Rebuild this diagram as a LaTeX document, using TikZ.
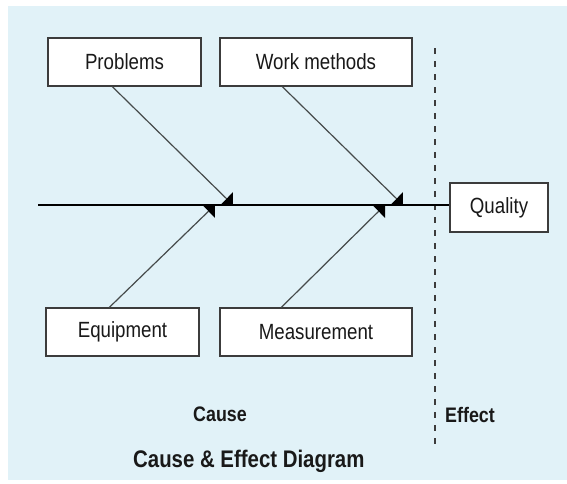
\documentclass[tikz,border=0pt]{standalone}
\usepackage{fontspec}
\setmainfont{Liberation Sans}[FakeStretch=0.85]
\usetikzlibrary{arrows.meta}
\definecolor{bgc}{RGB}{225,242,248}
\definecolor{boxc}{RGB}{60,60,60}
\definecolor{txtc}{RGB}{25,25,25}
\definecolor{bonec}{RGB}{70,75,75}
\tikzset{
  box/.style={draw=boxc, fill=white, line width=1.3pt, minimum height=48pt, inner sep=0pt,
    font=\fontsize{22}{25}\selectfont, text=txtc},
  bone/.style={draw=bonec, line width=1.2pt, -{Triangle[length=9pt,width=18pt,color=black]}},
  spine/.style={draw=black, line width=2pt},
  divider/.style={draw=boxc, line width=1.6pt, dash pattern=on 6pt off 7pt},
  lbl/.style={font=\bfseries\fontsize{21}{24}\selectfont, text=txtc, inner sep=0pt},
}
\begin{document}
\begin{tikzpicture}[x=1pt,y=-1pt]
\useasboundingbox (0,0) rectangle (567,483);
\fill[white] (0,0) rectangle (567,483);
\fill[bgc] (8,6) rectangle (567,480);
% divider
\coordinate (d1) at (435,48);
\coordinate (d2) at (435,444);
\draw[divider] (d1) -- (d2);
% boxes
\node[box, minimum width=153pt] (P) at (124.5,62) {Problems};
\node[box, minimum width=192pt] (W) at (316,62) {Work methods};
\node[box, minimum width=153pt] (E) at (122.5,332) {Equipment};
\node[box, minimum width=192pt] (M) at (316,332) {Measurement};
\node[box, minimum width=98pt, minimum height=49pt] (Q) at (499,207.5) {Quality};
% spine
\coordinate (L) at (38,205);
\draw[spine] (L) -- (L -| Q.west);
% junctions on spine
\coordinate (a1) at (233,205);
\coordinate (a2) at (403,205);
\coordinate (a3) at (215,205);
\coordinate (a4) at (385,205);
\draw[bone] ([xshift=65pt]P.south west) -- (a1);
\draw[bone] ([xshift=63pt]W.south west) -- (a2);
\draw[bone] ([xshift=64pt]E.north west) -- (a3);
\draw[bone] ([xshift=62pt]M.north west) -- (a4);
% labels
\node[lbl, anchor=base] (cause) at (220,421) {Cause};
\node[lbl, anchor=base west] (effect) at (445,422) {Effect};
\node[lbl, anchor=base west, font=\bfseries\fontsize{24}{28}\selectfont] (title) at (133,467) {Cause \& Effect Diagram};
\end{tikzpicture}
\end{document}
